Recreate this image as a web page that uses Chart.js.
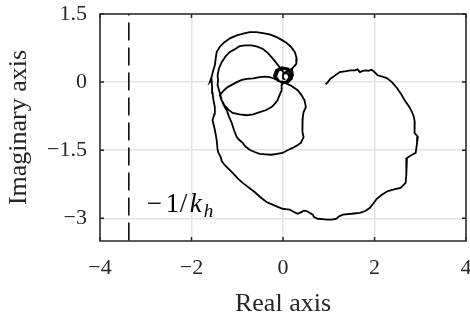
<!DOCTYPE html>
<html>
<head>
<meta charset="utf-8">
<script src="https://cdn.jsdelivr.net/npm/chart.js@4.4.1/dist/chart.umd.min.js"></script>
<style>
  html, body { margin: 0; padding: 0; background: #fff; }
</style>
</head>
<body>
<canvas id="nyq" width="470" height="320"></canvas>
<script>
// tick values
const xTicks = [-4, -2, 0, 2, 4]
const yTicks = [-3, -1.5, 0, 1.5]

// critical point -1/k_h
const critRe = -3.37
const labelRe = -2.98
const labelIm = -2.86

// big outer loop (low frequency), starts near (1, 0)
const bigRe = [0.93, 0.98, 1.03, 1.09, 1.17, 1.24, 1.31, 1.39, 1.47, 1.57, 1.63, 1.68, 1.73, 1.79, 1.86, 1.94, 2.0, 2.07, 2.17, 2.27, 2.38, 2.49, 2.58, 2.66, 2.75, 2.82, 2.86, 2.88, 2.87, 2.88, 2.95, 2.93, 2.90, 2.80, 2.71, 2.70, 2.69, 2.68, 2.57, 2.45, 2.29, 2.16, 2.05, 1.97, 1.90, 1.80, 1.68, 1.50, 1.31, 1.22, 1.17, 1.07, 0.96, 0.86, 0.76, 0.68, 0.65, 0.57, 0.52, 0.45, 0.41, 0.32, 0.24, 0.15, 0.06, -0.01, -0.18, -0.36, -0.50, -0.62, -0.75, -0.88, -0.98, -1.10, -1.20, -1.28, -1.34, -1.36, -1.41, -1.43, -1.45, -1.49, -1.54, -1.50, -1.49, -1.52, -1.54, -1.55, -1.56, -1.60, -1.56, -1.53, -1.49, -1.47, -1.45, -1.38, -1.28, -1.15, -1.01, -0.87, -0.73, -0.58, -0.44, -0.29, -0.14, -0.03, 0.08, 0.18, 0.26, 0.30, 0.29, 0.21, 0.10]
const bigIm = [-0.05, 0.0, 0.07, 0.11, 0.17, 0.22, 0.23, 0.24, 0.26, 0.26, 0.28, 0.22, 0.24, 0.26, 0.25, 0.27, 0.22, 0.15, 0.12, 0.09, 0.0, -0.13, -0.26, -0.40, -0.53, -0.66, -0.77, -0.88, -1.0, -1.12, -1.21, -1.34, -1.56, -1.61, -1.67, -1.85, -2.05, -2.22, -2.33, -2.36, -2.40, -2.48, -2.57, -2.68, -2.77, -2.84, -2.88, -2.90, -2.92, -2.96, -3.01, -3.03, -3.03, -3.02, -3.01, -2.97, -2.92, -2.87, -2.84, -2.83, -2.86, -2.90, -2.86, -2.81, -2.80, -2.79, -2.72, -2.64, -2.53, -2.42, -2.32, -2.22, -2.13, -2.0, -1.90, -1.82, -1.74, -1.65, -1.56, -1.49, -1.27, -1.05, -0.84, -0.70, -0.55, -0.40, -0.24, -0.10, 0.04, 0.0, 0.11, 0.24, 0.37, 0.52, 0.66, 0.78, 0.88, 0.97, 1.03, 1.07, 1.10, 1.10, 1.08, 1.05, 0.99, 0.93, 0.86, 0.77, 0.66, 0.52, 0.40, 0.31, 0.22]

// small loop around the origin
const coilARe = [0.20, 0.22, 0.15, 0.02, -0.12, -0.20, -0.15, -0.02, 0.12, 0.18, 0.12, 0.04]
const coilAIm = [0.28, 0.15, 0.03, -0.02, 0.03, 0.14, 0.27, 0.33, 0.30, 0.18, 0.06, -0.02]

// lower loop, then up the left side into the inner top loop
const lowRe = [0.18, 0.32, 0.40, 0.47, 0.50, 0.45, 0.43, 0.42, 0.43, 0.45, 0.39, 0.30, 0.21, 0.10, -0.01, -0.13, -0.25, -0.38, -0.51, -0.62, -0.73, -0.82, -0.88, -0.96, -1.01, -1.07, -1.12, -1.18, -1.23, -1.30, -1.34, -1.38, -1.43, -1.42, -1.43, -1.40, -1.34, -1.26, -1.17, -1.06, -0.95, -0.82, -0.69, -0.56, -0.44, -0.34, -0.25, -0.16, -0.09, 0.02]
const lowIm = [-0.08, -0.18, -0.28, -0.40, -0.55, -0.66, -0.80, -0.99, -1.10, -1.21, -1.34, -1.40, -1.45, -1.50, -1.56, -1.58, -1.60, -1.59, -1.58, -1.54, -1.49, -1.42, -1.34, -1.27, -1.21, -1.06, -0.90, -0.76, -0.62, -0.50, -0.40, -0.24, -0.07, 0.05, 0.15, 0.30, 0.44, 0.56, 0.66, 0.72, 0.79, 0.81, 0.81, 0.78, 0.73, 0.65, 0.55, 0.44, 0.35, 0.20]

// second small loop around the origin
const coilBRe = [0.10, 0.20, 0.18, 0.06, -0.08, -0.16, -0.12, 0.0, 0.14, 0.16, 0.08, -0.03]
const coilBIm = [0.25, 0.20, 0.06, 0.0, 0.02, 0.12, 0.24, 0.30, 0.26, 0.12, 0.02, -0.05]

// middle loop to the left of the origin
const midRe = [-0.03, -0.08, -0.12, -0.19, -0.25, -0.38, -0.51, -0.65, -0.79, -0.95, -1.10, -1.20, -1.28, -1.34, -1.38, -1.30, -1.21, -1.10, -1.01, -0.90, -0.79, -0.65, -0.51, -0.40, -0.29, -0.20, -0.12]
const midIm = [-0.18, -0.30, -0.40, -0.49, -0.55, -0.62, -0.66, -0.71, -0.73, -0.71, -0.68, -0.60, -0.51, -0.40, -0.29, -0.19, -0.11, -0.05, 0.0, 0.05, 0.07, 0.08, 0.11, 0.12, 0.11, 0.08, 0.04]

// last coils settling near the origin
const coilCRe = [-0.05, 0.10, 0.20, 0.18, 0.05, -0.10, -0.15, -0.08, 0.06, 0.14, 0.10, 0.0, 0.0, 0.05]
const coilCIm = [0.0, -0.02, 0.08, 0.22, 0.29, 0.25, 0.12, 0.02, 0.0, 0.10, 0.20, 0.18, 0.08, 0.05]

const reParts = [bigRe, coilARe, lowRe, coilBRe, midRe, coilCRe]
const imParts = [bigIm, coilAIm, lowIm, coilBIm, midIm, coilCIm]
const curve = []
reParts.forEach((re, k) => {
  re.forEach((v, i) => curve.push({ x: v, y: imParts[k][i] }))
})

const fmt = (v) => (v < 0 ? '\u2212' + Math.abs(v) : '' + v)
const serif = '"Liberation Serif", "Times New Roman", serif'

// box, inward ticks and the -1/k_h label
const boxPlugin = {
  id: 'box',
  afterDraw(chart) {
    const { ctx, chartArea: a, scales } = chart
    ctx.save()
    ctx.strokeStyle = '#262626'
    ctx.lineWidth = 1.5
    ctx.strokeRect(a.left, a.top, a.right - a.left, a.bottom - a.top)
    ctx.beginPath()
    xTicks.forEach((t) => {
      const p = scales.x.getPixelForValue(t)
      ctx.moveTo(p, a.bottom); ctx.lineTo(p, a.bottom - 4)
      ctx.moveTo(p, a.top); ctx.lineTo(p, a.top + 4)
    })
    yTicks.forEach((t) => {
      const p = scales.y.getPixelForValue(t)
      ctx.moveTo(a.left, p); ctx.lineTo(a.left + 4, p)
      ctx.moveTo(a.right, p); ctx.lineTo(a.right - 4, p)
    })
    ctx.stroke()

    // -1/k_h, spaced roughly like the math typesetting in the original
    const x0 = scales.x.getPixelForValue(labelRe)
    const y = scales.y.getPixelForValue(labelIm)
    ctx.fillStyle = '#000'
    ctx.textBaseline = 'alphabetic'
    ctx.textAlign = 'left'
    ctx.font = '27px ' + serif
    ctx.fillText('\u2212', x0, y)
    ctx.fillText('1', x0 + 19, y)
    ctx.fillText('/', x0 + 33, y)
    ctx.font = 'italic 27px ' + serif
    ctx.fillText('k', x0 + 43, y)
    ctx.font = 'italic 19px ' + serif
    ctx.fillText('h', x0 + 57, y + 5)
    ctx.restore()
  }
}

new Chart(document.getElementById('nyq').getContext('2d'), {
  type: 'scatter',
  data: {
    datasets: [
      {
        label: 'critical',
        data: [{ x: critRe, y: 1.5 }, { x: critRe, y: -3.5 }],
        showLine: true,
        borderColor: '#000',
        borderWidth: 1.5,
        borderDash: [18, 7],
        borderDashOffset: 16.5,
        pointRadius: 0,
      },
      {
        label: 'G(jw)',
        data: curve,
        showLine: true,
        borderColor: '#000',
        borderWidth: 1.8,
        pointRadius: 0,
        tension: 0,
      },
    ],
  },
  options: {
    responsive: false,
    animation: false,
    devicePixelRatio: 1,
    layout: { padding: { top: 14, right: 4, left: 0, bottom: 0 } },
    plugins: { legend: { display: false }, tooltip: { enabled: false } },
    scales: {
      x: {
        type: 'linear',
        min: -4,
        max: 4,
        afterBuildTicks: (s) => { s.ticks = xTicks.map((v) => ({ value: v })) },
        afterFit: (s) => { s.height = 79; s.paddingLeft = 0; s.paddingRight = 0 },
        grid: { color: '#e3e3e3', lineWidth: 1.5, drawTicks: false },
        border: { display: false },
        ticks: { color: '#262626', padding: 14, maxRotation: 0, font: { family: serif, size: 22 }, callback: fmt },
        title: { display: true, text: 'Real axis', color: '#262626', font: { family: serif, size: 26, lineHeight: 1.2 }, padding: 0 },
      },
      y: {
        type: 'linear',
        min: -3.5,
        max: 1.5,
        afterBuildTicks: (s) => { s.ticks = yTicks.map((v) => ({ value: v })) },
        afterFit: (s) => { s.width = 100; s.paddingTop = 0; s.paddingBottom = 0 },
        grid: { color: '#e3e3e3', lineWidth: 1.5, drawTicks: false },
        border: { display: false },
        ticks: { color: '#262626', padding: 13, font: { family: serif, size: 22 }, callback: fmt },
        title: { display: true, text: 'Imaginary axis', color: '#262626', font: { family: serif, size: 26, lineHeight: 1.2 }, padding: { top: 3.4, bottom: 0 } },
      },
    },
  },
  plugins: [boxPlugin],
})
</script>
</body>
</html>
